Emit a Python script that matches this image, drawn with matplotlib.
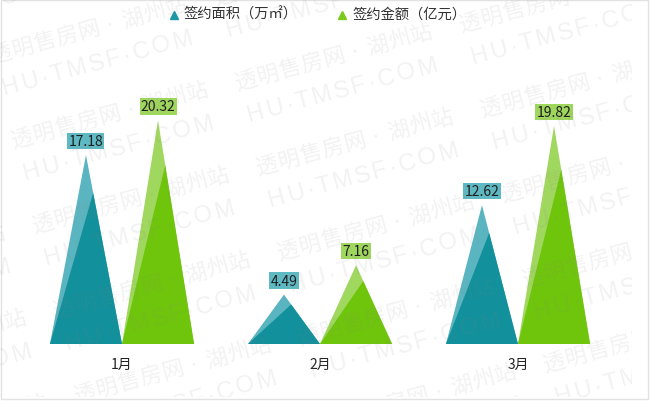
import numpy as np
import matplotlib
matplotlib.use('Agg')
import matplotlib.pyplot as plt
from matplotlib.patches import Polygon, Rectangle

# ---------------- data ----------------
months = ['1月', '2月', '3月']
area = [17.18, 4.49, 12.62]        # 签约面积（万㎡）
amount = [20.32, 7.16, 19.82]      # 签约金额（亿元）
series_names = ['签约面积（万㎡）', '签约金额（亿元）']
wm_line1 = '透明售房网·湖州站'
wm_line2 = 'HU·TMSF·COM'

# ---------------- style ----------------
CJK = ['Noto Sans CJK SC', 'DejaVu Sans']
plt.rcParams['font.family'] = CJK

dark = ['#12909b', '#6fc40c']
light = ['#5ab5c0', '#a0d75e']
label_bg = ['#5fb9c3', '#9fd65d']
legend_col = ['#1c98a4', '#7bc91a']

W, H = 650, 402
fig = plt.figure(figsize=(W / 100, H / 100), dpi=100)
fig.patch.set_facecolor('white')

# main axes (pixel-calibrated)
ax = fig.add_axes([23 / W, (H - 345) / H, 594 / W, 275 / H])
ax.set_xlim(-0.5, 2.5)
ax.set_ylim(0, 25)
ax.axis('off')

bw = 0.364
for s, vals in enumerate([area, amount]):
    for i, v in enumerate(vals):
        c = i + (s - 0.5) * bw
        hw = bw / 2
        ax.add_patch(Polygon([(c - hw, 0), (c, v), (c + hw, 0)], closed=True,
                             fc=light[s], ec='none', zorder=2))
        ax.add_patch(Polygon([(c - hw, 0), (c + 0.2 * hw, 0.8 * v), (c + hw, 0)],
                             closed=True, fc=dark[s], ec='none', zorder=3))
        ax.annotate(f'{v:.2f}', xy=(c, v), xytext=(0, 7 * 0.72), textcoords='offset points',
                    ha='center', va='bottom', fontsize=10, color='#1e1e1e', zorder=6,
                    bbox=dict(boxstyle='square,pad=0.08', fc=label_bg[s], ec='none'))

for i, m in enumerate(months):
    ax.annotate(m, xy=(i, 0), xytext=(0, -20 * 0.72), textcoords='offset points',
                ha='center', va='center', fontsize=10, color='#222222')

# overlay axes in pixel coordinates (y down)
ov = fig.add_axes([0, 0, 1, 1], zorder=5)
ov.set_xlim(0, W)
ov.set_ylim(H, 0)
ov.axis('off')
ov.patch.set_alpha(0)

# legend
leg_marker_x = [174, 342]
leg_text_x = [183, 352]
for s in range(2):
    ov.plot([leg_marker_x[s]], [15.5], marker='^', ms=6, color=legend_col[s], ls='none')
    ov.text(leg_text_x[s], 15, series_names[s], ha='left', va='center', fontsize=10.3,
            color='#333333')

# border
ov.add_patch(Rectangle((0.5, 0.5), 647, 399, fill=False, ec='#e2e2e2', lw=1))

# watermark axes (clipped region)
wa = fig.add_axes([0, (H - 398) / H, 632 / W, 398 / H], zorder=6)
wa.set_xlim(0, 632)
wa.set_ylim(398, 0)
wa.axis('off')
wa.patch.set_facecolor('none')

ang = np.deg2rad(15)
u = np.array([np.cos(ang), -np.sin(ang)])
n = np.array([np.sin(ang), np.cos(ang)])
wm_kw = dict(rotation=15, rotation_mode='anchor', ha='center', va='baseline',
             color='#8a8a8a', alpha=0.11, clip_on=True, zorder=10)
lat_em = {'H': .722, 'U': .722, '·': .333, 'T': .611, 'M': .833, 'S': .667,
          'F': .611, 'C': .722, 'O': .778}
F1, F2 = 22.0, 24.0
base = np.array([236.0, 90.0])
for i in range(-2, 4):
    for j in range(-4, 6):
        P = base + i * np.array([245.0, 27.0]) + j * np.array([21.0, 85.0])
        if P[0] > 660 or P[0] < -260 or P[1] < -40 or P[1] > 470:
            continue
        slot = 205 / len(wm_line1)
        for k, ch in enumerate(wm_line1):
            q = P + u * (slot * (k + 0.5))
            if ch == '·':
                wa.text(q[0], q[1], ch, fontsize=F1 * 0.72, family=['DejaVu Sans'], **wm_kw)
            else:
                wa.text(q[0], q[1], ch, fontsize=F1 * 0.72, family=CJK,
                        fontweight='light', **wm_kw)
        Q = P + 4 * u + 34 * n
        pos = 0.0
        for ch in wm_line2:
            adv = lat_em[ch] * F2 + 2.5
            q = Q + u * (pos + lat_em[ch] * F2 / 2)
            wa.text(q[0], q[1], ch, fontsize=F2 * 0.72,
                    family=['Liberation Sans', 'DejaVu Sans'], **wm_kw)
            pos += adv

fig.savefig('out.png', dpi=100, facecolor='white')
